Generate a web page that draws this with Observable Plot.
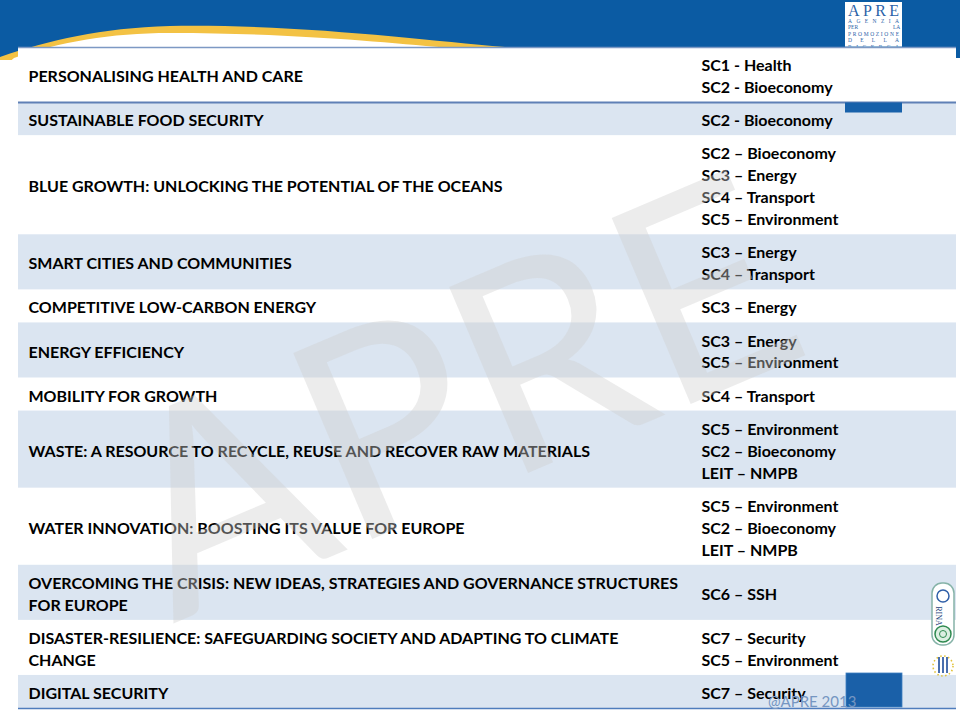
<!DOCTYPE html>
<html><head><meta charset="utf-8">
<script src="https://cdn.jsdelivr.net/npm/d3@7"></script>
<script src="https://cdn.jsdelivr.net/npm/@observablehq/plot@0.6"></script>
<style>
html,body{margin:0;padding:0;background:#fff;}
#page{position:relative;width:960px;height:710px;overflow:hidden;font-family:Lato,"Open Sans",sans-serif;}
#page > svg, #page > div{position:absolute;left:0;top:0;}
#chart svg{display:block;}
</style></head><body>
<div id="page">
<svg id="bg" width="960" height="710">
  <rect x="0" y="0" width="960" height="58" fill="#0b5ba3"/>
  <path d="M0,57 C50,40 100,28 170,26 C300,24 420,40 505,47 L505,70 L0,70 Z" fill="#f3c244"/>
  <path d="M14,58 C60,42 110,33 170,33 C290,33 380,42 445,47.5 L445,70 L0,70 Z" fill="#ffffff"/>
  <rect x="0" y="60" width="960" height="650" fill="#ffffff"/>
</svg>
<div id="chart"></div>
<svg id="fg" width="960" height="710" style="pointer-events:none">
  <defs><clipPath id="logoclip"><rect x="845" y="0" width="57" height="46.5"/></clipPath></defs>
  <g clip-path="url(#logoclip)" font-family="'Liberation Serif','DejaVu Serif',serif" fill="#2a62a8">
    <rect x="845" y="2" width="57" height="46" fill="#ffffff"/>
    <text x="848" y="16" font-size="16" textLength="51" lengthAdjust="spacing">APRE</text>
    <text x="848" y="22.5" font-size="5.5" textLength="51" lengthAdjust="spacing">AGENZIA</text>
    <text x="848" y="29" font-size="5.5">PER</text><text x="893" y="29" font-size="5.5">LA</text>
    <text x="848" y="35.5" font-size="5.5" textLength="51" lengthAdjust="spacing">PROMOZIONE</text>
    <text x="848" y="42" font-size="5.5" textLength="51" lengthAdjust="spacing">DELLA</text>
    <text x="848" y="48.5" font-size="5.5" textLength="51" lengthAdjust="spacing">RICERCA</text>
  </g>
  <rect x="845" y="102.5" width="57" height="10" fill="#1761aa"/>
  <rect x="846" y="673" width="56" height="34" fill="#1a60a8" stroke="#3f7fc0" stroke-width="0.8"/>
  <text x="768" y="707" font-size="15" fill="#7596c2" font-family="Lato,sans-serif">@APRE 2013</text>
  <g>
    <rect x="932" y="583" width="22" height="62" rx="10" fill="#ffffff" stroke="#86b3a8" stroke-width="1.5"/>
    <circle cx="943" cy="596" r="6" fill="#ffffff" stroke="#2f5fa8" stroke-width="1.5"/>
    <text x="946" y="620" font-size="8" font-family="'Liberation Serif',serif" fill="#1d3f7a" transform="rotate(90 943 613)" text-anchor="middle">RINA</text>
    <circle cx="943" cy="634" r="8" fill="#dcefe2" stroke="#2f8a50" stroke-width="1.5"/>
    <circle cx="943" cy="634" r="3.5" fill="none" stroke="#2f8a50" stroke-width="1"/>
    <circle cx="943" cy="666" r="10" fill="none" stroke="#e2c23a" stroke-width="1.6" stroke-dasharray="1.5 2.5"/>
    <rect x="938" y="657" width="2" height="16" fill="#4a6fae"/>
    <rect x="942" y="657" width="2" height="16" fill="#4a6fae"/>
    <rect x="946" y="657" width="2" height="16" fill="#4a6fae"/>
  </g>
</svg>
</div>
<script>
// Focus areas (left column) and societal challenges (right column)
const topics = [
  "PERSONALISING HEALTH AND CARE",
  "SUSTAINABLE FOOD SECURITY",
  "BLUE GROWTH: UNLOCKING THE POTENTIAL OF THE OCEANS",
  "SMART CITIES AND COMMUNITIES",
  "COMPETITIVE LOW-CARBON ENERGY",
  "ENERGY EFFICIENCY",
  "MOBILITY FOR GROWTH",
  "WASTE: A RESOURCE TO RECYCLE, REUSE AND RECOVER RAW MATERIALS",
  "WATER INNOVATION: BOOSTING ITS VALUE FOR EUROPE",
  "OVERCOMING THE CRISIS: NEW IDEAS, STRATEGIES AND GOVERNANCE STRUCTURES\nFOR EUROPE",
  "DISASTER-RESILIENCE: SAFEGUARDING SOCIETY AND ADAPTING TO CLIMATE\nCHANGE",
  "DIGITAL SECURITY"
];
const challenges = [
  "SC1 - Health\nSC2 - Bioeconomy",
  "SC2 - Bioeconomy",
  "SC2 \u2013 Bioeconomy\nSC3 \u2013 Energy\nSC4 \u2013 Transport\nSC5 \u2013 Environment",
  "SC3 \u2013 Energy\nSC4 \u2013 Transport",
  "SC3 \u2013 Energy",
  "SC3 \u2013 Energy\nSC5 \u2013 Environment",
  "SC4 \u2013 Transport",
  "SC5 \u2013 Environment\nSC2 \u2013 Bioeconomy\nLEIT \u2013 NMPB",
  "SC5 \u2013 Environment\nSC2 \u2013 Bioeconomy\nLEIT \u2013 NMPB",
  "SC6 \u2013 SSH",
  "SC7 \u2013 Security\nSC5 \u2013 Environment",
  "SC7 \u2013 Security"
];
const watermark = ["APRE"];

// layout
const LINE = 22, PAD = 11, SPLIT = 0.7175;
const nLines = topics.map((t, i) => Math.max(t.split("\n").length, challenges[i].split("\n").length));
const cum = [0];
nLines.forEach(n => cum.push(cum[cum.length - 1] + PAD + n * LINE));
const total = cum[cum.length - 1];
const rows = topics.map((t, i) => ({topic: t, challenge: challenges[i], y1: cum[i], y2: cum[i + 1], band: i % 2}));

const txt = {fontSize: 16, fontWeight: 700, lineHeight: LINE / 16, textAnchor: "start", dx: 10, fill: "#000", fontFamily: "Lato"};

const chart = Plot.plot({
  width: 960, height: 710,
  marginTop: 47, marginBottom: 2, marginLeft: 18, marginRight: 4,
  style: {background: "transparent", fontFamily: "Lato"},
  x: {domain: [0, 1], axis: null},
  y: {domain: [0, total], reverse: true, axis: null},
  marks: [
    Plot.rect(rows, {x1: 0, x2: 1, y1: "y1", y2: "y2", fill: "#ffffff"}),
    Plot.rect(rows.filter(d => d.band), {x1: 0, x2: 1, y1: "y1", y2: "y2", fill: "#dbe5f1"}),
    Plot.ruleY([0], {stroke: "#7d99c4", strokeWidth: 1.5}),
    Plot.ruleY([cum[1]], {stroke: "#5f80b6", strokeWidth: 2}),
    Plot.ruleY([total], {stroke: "#4f7dbd", strokeWidth: 1.5}),
    Plot.text(rows, {x: 0, y: d => (d.y1 + d.y2) / 2, text: "topic", ...txt}),
    Plot.text(rows, {x: SPLIT, y: d => (d.y1 + d.y2) / 2, text: "challenge", ...txt}),
    Plot.text(watermark, {frameAnchor: "middle", text: d => d, rotate: -23, fontSize: 282, fontWeight: 400, fontFamily: "Lato", fill: "#cfcfcf", fillOpacity: 0.4, dx: -28, dy: 26})
  ]
});
document.getElementById("chart").appendChild(chart);
</script>
</body></html>
